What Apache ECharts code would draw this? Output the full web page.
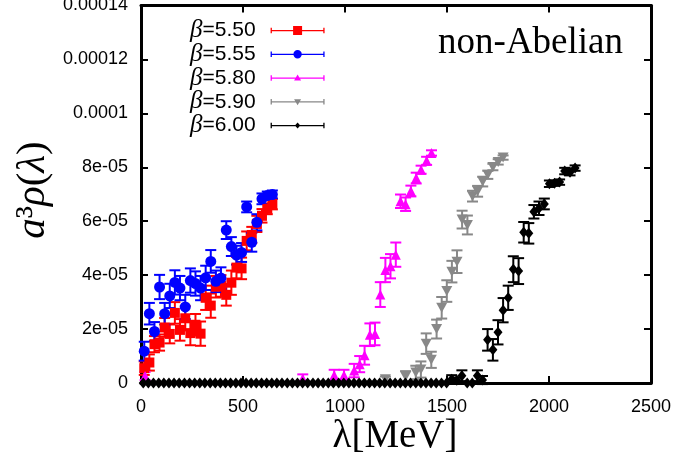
<!DOCTYPE html>
<html>
<head>
<meta charset="utf-8">
<script src="https://cdn.jsdelivr.net/npm/echarts@6/dist/echarts.min.js"></script>
<style>
  html, body { margin: 0; padding: 0; background: #fff; }
  #main { width: 676px; height: 462px; }
</style>
</head>
<body>
<div id="main"></div>
<script>
// lambda [MeV], a^3 rho, error
const redX = [16, 41, 66, 91, 116, 141, 166, 191, 217, 242, 267, 292, 317, 342, 367, 392, 418, 443, 468, 493, 518, 543, 568, 593, 619, 644]
const redY = [0.55e-5, 0.76e-5, 1.44e-5, 1.5e-5, 2.06e-5, 1.82e-5, 2.6e-5, 1.97e-5, 2.4e-5, 1.85e-5, 2.16e-5, 1.83e-5, 3.16e-5, 2.87e-5, 3.57e-5, 3.6e-5, 3.27e-5, 3.72e-5, 4.28e-5, 4.25e-5, 5.27e-5, 5.49e-5, 5.9e-5, 6.2e-5, 6.46e-5, 6.64e-5]
const redErr = [0.25e-5, 0.3e-5, 0.3e-5, 0.3e-5, 0.35e-5, 0.35e-5, 0.4e-5, 0.4e-5, 0.45e-5, 0.45e-5, 0.4e-5, 0.45e-5, 0.45e-5, 0.45e-5, 0.4e-5, 0.4e-5, 0.4e-5, 0.45e-5, 0.4e-5, 0.4e-5, 0.35e-5, 0.3e-5, 0.3e-5, 0.25e-5, 0.2e-5, 0.2e-5]

const blueX = [16, 41, 66, 91, 116, 141, 166, 191, 217, 242, 267, 292, 317, 342, 367, 392, 418, 443, 468, 493, 518, 543, 568, 593, 619, 644]
const blueY = [1.18e-5, 2.57e-5, 1.91e-5, 3.56e-5, 2.57e-5, 3.23e-5, 3.73e-5, 3.52e-5, 2.82e-5, 3.8e-5, 3.69e-5, 3.52e-5, 3.9e-5, 4.51e-5, 3.77e-5, 3.89e-5, 5.67e-5, 5.06e-5, 4.74e-5, 4.84e-5, 6.53e-5, 5.22e-5, 5.96e-5, 6.83e-5, 6.95e-5, 6.99e-5]
const blueErr = [0.35e-5, 0.4e-5, 0.35e-5, 0.45e-5, 0.4e-5, 0.45e-5, 0.45e-5, 0.45e-5, 0.45e-5, 0.45e-5, 0.45e-5, 0.45e-5, 0.45e-5, 0.42e-5, 0.4e-5, 0.4e-5, 0.33e-5, 0.35e-5, 0.35e-5, 0.35e-5, 0.2e-5, 0.35e-5, 0.3e-5, 0.2e-5, 0.15e-5, 0.15e-5]

const magX = [20, 793, 947, 995, 1045, 1072, 1096, 1122, 1147, 1173, 1198, 1223, 1249, 1272, 1297, 1323, 1349, 1373, 1400, 1424]
const magY = [0.26e-5, 0.17e-5, 0.29e-5, 0.29e-5, 0.46e-5, 0.7e-5, 1.03e-5, 1.79e-5, 1.82e-5, 3.28e-5, 4.19e-5, 4.33e-5, 4.76e-5, 6.74e-5, 6.63e-5, 7.12e-5, 7.6e-5, 7.91e-5, 8.24e-5, 8.53e-5]
const magErr = [0.15e-5, 0.15e-5, 0.2e-5, 0.2e-5, 0.25e-5, 0.3e-5, 0.35e-5, 0.42e-5, 0.42e-5, 0.46e-5, 0.45e-5, 0.45e-5, 0.45e-5, 0.25e-5, 0.25e-5, 0.2e-5, 0.2e-5, 0.15e-5, 0.15e-5, 0.1e-5]

const grayX = [1198, 1297, 1347, 1372, 1398, 1423, 1449, 1474, 1499, 1524, 1549, 1574, 1600, 1625, 1650, 1675, 1700, 1725, 1751, 1775]
const grayY = [0.14e-5, 0.24e-5, 0.39e-5, 0.5e-5, 1.46e-5, 0.86e-5, 2.0e-5, 2.79e-5, 3.41e-5, 4.13e-5, 4.5e-5, 6.06e-5, 5.86e-5, 6.93e-5, 7.11e-5, 7.47e-5, 7.72e-5, 8.01e-5, 8.2e-5, 8.36e-5]
const grayErr = [0.1e-5, 0.2e-5, 0.25e-5, 0.3e-5, 0.38e-5, 0.3e-5, 0.35e-5, 0.4e-5, 0.4e-5, 0.4e-5, 0.42e-5, 0.33e-5, 0.35e-5, 0.2e-5, 0.2e-5, 0.18e-5, 0.15e-5, 0.12e-5, 0.1e-5, 0.08e-5]

const blackX = [11, 36, 61, 87, 112, 137, 162, 187, 213, 238, 263, 288, 313, 339, 364, 389, 414, 439, 465, 490,
  515, 540, 565, 591, 616, 641, 666, 691, 717, 742, 767, 792, 817, 843, 868, 893, 918, 943, 969, 994,
  1019, 1044, 1069, 1095, 1120, 1145, 1170, 1195, 1221, 1246, 1271, 1296, 1321, 1347, 1372, 1397, 1422, 1447, 1473, 1498,
  1523, 1548, 1573, 1599, 1624, 1649, 1674, 1699, 1725, 1750, 1775, 1800, 1825, 1851, 1876, 1901, 1926, 1951, 1977, 2002,
  2027, 2052, 2077, 2103, 2128]
const blackY = [0, 0, 0, 0, 0, 0, 0, 0, 0, 0, 0, 0, 0, 0, 0, 0, 0, 0, 0, 0,
  0, 0, 0, 0, 0, 0, 0, 0, 0, 0, 0, 0, 0, 0, 0, 0, 0, 0, 0, 0,
  0, 0, 0, 0, 0, 0, 0, 0, 0, 0, 0, 0, 0, 0, 0, 0, 0, 0, 0, 0,
  0.14e-5, 0.1e-5, 0.27e-5, 0, 0, 0.27e-5, 0.11e-5, 1.6e-5, 1.23e-5, 1.88e-5, 2.7e-5, 3.16e-5, 4.22e-5, 4.15e-5, 5.59e-5, 5.55e-5, 6.35e-5, 6.48e-5, 6.64e-5, 7.39e-5,
  7.41e-5, 7.45e-5, 7.86e-5, 7.82e-5, 7.97e-5]
const blackErr = [0, 0, 0, 0, 0, 0, 0, 0, 0, 0, 0, 0, 0, 0, 0, 0, 0, 0, 0, 0,
  0, 0, 0, 0, 0, 0, 0, 0, 0, 0, 0, 0, 0, 0, 0, 0, 0, 0, 0, 0,
  0, 0, 0, 0, 0, 0, 0, 0, 0, 0, 0, 0, 0, 0, 0, 0, 0, 0, 0, 0,
  0.15e-5, 0.1e-5, 0.2e-5, 0, 0, 0.2e-5, 0.15e-5, 0.4e-5, 0.4e-5, 0.45e-5, 0.45e-5, 0.45e-5, 0.48e-5, 0.48e-5, 0.38e-5, 0.38e-5, 0.25e-5, 0.25e-5, 0.2e-5, 0.12e-5,
  0.1e-5, 0.1e-5, 0.12e-5, 0.12e-5, 0.1e-5]

const xTicks = ['0', '500', '1000', '1500', '2000', '2500']
const yTicks = ['0', '2e-05', '4e-05', '6e-05', '8e-05', '0.0001', '0.00012', '0.00014']

const sans = 'Liberation Sans, Arial, sans-serif'
const serif = 'Liberation Serif, Times New Roman, serif'

// legend samples: |--marker--|  (tiny corner dots keep every bbox at 54x12)
const bar = 'M0 0h0.1v0.1h-0.1z M0 11.9h0.1v0.1h-0.1z M0 5.4h54v1.3H0z M0 3.2h1.3v5.6H0z M52.7 3.2h1.3v5.6h-1.3z '
const icons = {
  rect: bar + 'M22.5 1.5h9v9h-9z',
  circle: bar + 'M31.2 6A4.2 4.2 0 1 1 22.8 6A4.2 4.2 0 1 1 31.2 6z',
  triangle: bar + 'M27 2.5L30.5 8.5H23.5z',
  down: bar + 'M23.5 3.5H30.5L27 9.5z',
  diamond: bar + 'M27 3L29.7 6L27 9L24.3 6z',
}

const sets = [
  { name: 'β=5.50', color: '#ff0000', x: redX, y: redY, e: redErr, symbol: 'rect', size: 10, icon: icons.rect },
  { name: 'β=5.55', color: '#0000ff', x: blueX, y: blueY, e: blueErr, symbol: 'circle', size: 11, icon: icons.circle },
  { name: 'β=5.80', color: '#ff00ff', x: magX, y: magY, e: magErr, symbol: 'triangle', size: 10, icon: icons.triangle },
  { name: 'β=5.90', color: '#888888', x: grayX, y: grayY, e: grayErr, symbol: 'path://M0 0H10L5 9z', size: [11, 10], icon: icons.down },
  { name: 'β=6.00', color: '#000000', x: blackX, y: blackY, e: blackErr, symbol: 'diamond', size: [9, 11], icon: icons.diamond },
]

function errRender(params, api) {
  const e = api.value(2)
  if (!e) return null
  const x = api.value(0)
  const y = api.value(1)
  const top = api.coord([x, y + e])
  const bot = api.coord([x, y - e])
  const style = { stroke: api.visual('color'), lineWidth: 2 }
  return {
    type: 'group',
    children: [
      { type: 'line', shape: { x1: top[0], y1: top[1], x2: bot[0], y2: bot[1] }, style },
      { type: 'line', shape: { x1: top[0] - 5.5, y1: top[1], x2: top[0] + 5.5, y2: top[1] }, style },
      { type: 'line', shape: { x1: bot[0] - 5.5, y1: bot[1], x2: bot[0] + 5.5, y2: bot[1] }, style },
    ],
  }
}

const series = []
sets.forEach((s) => {
  const data = s.x.map((v, i) => [v, s.y[i], s.e[i]])
  series.push({
    name: s.name,
    type: 'custom',
    renderItem: errRender,
    itemStyle: { color: s.color },
    encode: { x: 0, y: 1 },
    data,
    silent: true,
  })
  series.push({
    name: s.name,
    type: 'scatter',
    symbol: s.symbol,
    symbolSize: s.size,
    itemStyle: { color: s.color, opacity: 1 },
    data: data.map(d => [d[0], d[1]]),
    silent: true,
  })
})

const axisCommon = {
  type: 'value',
  axisLine: { show: true, onZero: false, lineStyle: { color: '#000', width: 3 } },
  axisTick: { show: true, inside: true, length: 7, lineStyle: { color: '#000', width: 2 } },
  splitLine: { show: false },
}

const myChart = echarts.init(document.getElementById('main'))
const option = {
  animation: false,
  grid: { left: 141, right: 25, top: 5.5, bottom: 79, outerBoundsMode: 'none' },
  xAxis: [
    {
      ...axisCommon,
      position: 'bottom',
      min: 0,
      max: 2500,
      interval: 500,
      axisLabel: { color: '#000', fontSize: 18, fontFamily: sans, margin: 15, formatter: (v, i) => xTicks[i] },
    },
    {
      ...axisCommon,
      position: 'top',
      min: 0,
      max: 2500,
      interval: 500,
      axisLabel: { show: false },
    },
  ],
  yAxis: [
    {
      ...axisCommon,
      position: 'left',
      min: 0,
      max: 0.00014,
      interval: 0.00002,
      axisLabel: { color: '#000', fontSize: 18, fontFamily: sans, margin: 13, formatter: (v, i) => yTicks[i] },
    },
    {
      ...axisCommon,
      position: 'right',
      min: 0,
      max: 0.00014,
      interval: 0.00002,
      axisLabel: { show: false },
    },
  ],
  legend: {
    left: 185,
    top: 13,
    orient: 'vertical',
    align: 'right',
    itemWidth: 54,
    itemHeight: 12,
    itemGap: -1.25,
    selectedMode: false,
    data: sets.map(s => ({ name: s.name, icon: 'path://' + s.icon, itemStyle: { color: s.color } })),
    formatter: n => '{g|β}{t|' + n.slice(1) + '}{p|}',
    textStyle: {
      rich: {
        g: { fontFamily: serif, fontStyle: 'italic', fontSize: 25, color: '#000', lineHeight: 22 },
        t: { fontFamily: sans, fontSize: 21, color: '#000', lineHeight: 22 },
        p: { width: 10, lineHeight: 22 },
      },
    },
  },
  graphic: [
    {
      type: 'text',
      x: 33,
      y: 190,
      rotation: Math.PI / 2,
      style: {
        text: '{i|a}{n|³}{i|ρ}{n|(}{i|λ}{n|)}',
        align: 'center',
        verticalAlign: 'middle',
        rich: {
          i: { fontFamily: serif, fontStyle: 'italic', fontSize: 41, fill: '#000' },
          n: { fontFamily: serif, fontSize: 41, fill: '#000' },
        },
      },
    },
    {
      type: 'text',
      x: 395,
      y: 437,
      style: { text: 'λ[MeV]', font: '39px ' + serif, fill: '#000', align: 'center', verticalAlign: 'middle' },
    },
    {
      type: 'text',
      x: 623,
      y: 43,
      style: { text: 'non-Abelian', font: '37px ' + serif, fill: '#000', align: 'right', verticalAlign: 'middle' },
    },
  ],
  series,
}

option && myChart.setOption(option)
</script>
</body>
</html>
